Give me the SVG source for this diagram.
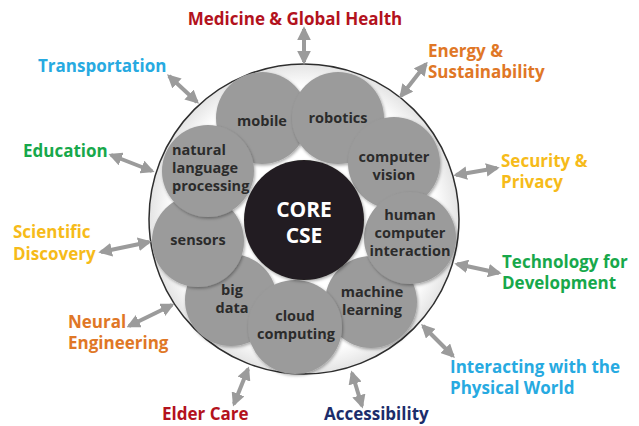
<svg xmlns="http://www.w3.org/2000/svg" width="639" height="426" viewBox="0 0 639 426">
<defs>
<filter id="sh" x="-20%" y="-20%" width="140%" height="140%">
<feDropShadow dx="1" dy="1.5" stdDeviation="1.5" flood-color="#000" flood-opacity="0.35"/>
</filter>
<radialGradient id="bg" cx="0.5" cy="0.5" r="0.5">
<stop offset="0.85" stop-color="#ffffff"/>
<stop offset="1" stop-color="#e4e4e4"/>
</radialGradient>
<marker id="ah" viewBox="0 0 10 10" refX="8" refY="5" markerWidth="3.4" markerHeight="3.4" orient="auto-start-reverse" markerUnits="strokeWidth">
<path d="M0,0 L10,5 L0,10 Z" fill="#9b9b9b"/>
</marker>
<style>
.n{fill:#9b9b9b;filter:url(#sh)}
.t{font-family:"Open Sans","DejaVu Sans",sans-serif;font-weight:bold;font-size:14.5px;fill:#2b2b2b;text-anchor:middle}
.l{font-family:"Open Sans","DejaVu Sans",sans-serif;font-weight:bold;font-size:17px}
.a{stroke:#9b9b9b;stroke-width:4;fill:none;marker-start:url(#ah);marker-end:url(#ah)}
</style>
</defs>
<rect width="639" height="426" fill="#ffffff"/>
<g id="outer">
<circle cx="304" cy="219" r="155" fill="url(#bg)" stroke="#2e2e2e" stroke-width="1.5"/>
</g>
<g id="node-bigdata"><circle class="n" cx="231" cy="300" r="46"/><text class="t" x="232" y="295">big</text><text class="t" x="232" y="313">data</text></g>
<g id="node-ml"><circle class="n" cx="371" cy="302" r="46"/><text class="t" x="372" y="297">machine</text><text class="t" x="372" y="315">learning</text></g>
<g id="node-sensors"><circle class="n" cx="198" cy="241" r="46"/><text class="t" x="198" y="245">sensors</text></g>
<g id="node-mobile"><circle class="n" cx="262" cy="118" r="46"/><text class="t" x="262" y="126">mobile</text></g>
<g id="node-robotics"><circle class="n" cx="338" cy="118" r="46"/><text class="t" x="338" y="123">robotics</text></g>
<g id="node-cv"><circle class="n" cx="394" cy="163" r="46"/><text class="t" x="394" y="162">computer</text><text class="t" x="394" y="180">vision</text></g>
<g id="node-hci"><circle class="n" cx="410" cy="238" r="46"/><text class="t" x="410" y="220">human</text><text class="t" x="410" y="238">computer</text><text class="t" x="410" y="256">interaction</text></g>
<g id="node-nlp"><circle class="n" cx="208" cy="171" r="46"/><text class="t" x="172" y="155" style="text-anchor:start">natural</text><text class="t" x="172" y="173" style="text-anchor:start">language</text><text class="t" x="172" y="191" style="text-anchor:start">processing</text></g>
<g id="node-cloud"><circle class="n" cx="295" cy="327" r="47"/><text class="t" x="295" y="321">cloud</text><text class="t" x="296" y="339">computing</text></g>
<g id="node-core"><circle cx="304" cy="220" r="60" fill="#231f20" filter="url(#sh)"/><text class="t" x="304" y="217" style="fill:#fff;font-size:21px">CORE</text><text class="t" x="304" y="243" style="fill:#fff;font-size:21px">CSE</text></g>
<g id="connectors">
<line class="a" x1="304" y1="29" x2="304" y2="62"/>
<line class="a" x1="169" y1="76" x2="197" y2="102"/>
<line class="a" x1="111" y1="155" x2="152" y2="171"/>
<line class="a" x1="426" y1="64" x2="401" y2="96"/>
<line class="a" x1="456" y1="175" x2="497" y2="168"/>
<line class="a" x1="457" y1="264" x2="499" y2="273"/>
<line class="a" x1="423" y1="326" x2="453" y2="356"/>
<line class="a" x1="352" y1="373" x2="362" y2="406"/>
<line class="a" x1="248" y1="369" x2="234" y2="404"/>
<line class="a" x1="129" y1="326" x2="172" y2="305"/>
<line class="a" x1="101" y1="252" x2="149" y2="242"/>
</g>
<g id="label-medicine"><text class="l" x="295" y="25" fill="#b3121d" text-anchor="middle">Medicine &amp; Global Health</text></g>
<g id="label-transportation"><text class="l" x="38" y="72" fill="#27aae1">Transportation</text></g>
<g id="label-education"><text class="l" x="23" y="157" fill="#17a84b">Education</text></g>
<g id="label-energy"><text class="l" x="428" y="57" fill="#e07726">Energy &amp;</text><text class="l" x="428" y="78" fill="#e07726">Sustainability</text></g>
<g id="label-security"><text class="l" x="501" y="167" fill="#f6bb1a">Security &amp;</text><text class="l" x="501" y="188" fill="#f6bb1a">Privacy</text></g>
<g id="label-technology"><text class="l" x="502" y="268" fill="#17a84b">Technology for</text><text class="l" x="502" y="289" fill="#17a84b">Development</text></g>
<g id="label-interacting"><text class="l" x="450" y="373" fill="#27aae1">Interacting with the</text><text class="l" x="450" y="394" fill="#27aae1">Physical World</text></g>
<g id="label-accessibility"><text class="l" x="324" y="420" fill="#1c2d6b">Accessibility</text></g>
<g id="label-eldercare"><text class="l" x="162" y="420" fill="#b3121d">Elder Care</text></g>
<g id="label-neural"><text class="l" x="68" y="328" fill="#e07726">Neural</text><text class="l" x="68" y="349" fill="#e07726">Engineering</text></g>
<g id="label-scientific"><text class="l" x="13" y="238" fill="#f6bb1a">Scientific</text><text class="l" x="13" y="260" fill="#f6bb1a">Discovery</text></g>
</svg>
